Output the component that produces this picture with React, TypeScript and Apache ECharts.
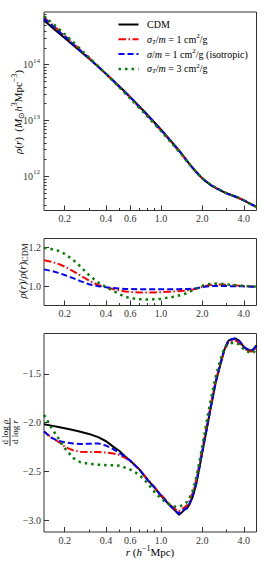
import React, { useEffect, useRef } from 'react';
import * as echarts from 'echarts';

// ---------- data ----------
const R_MIN = 0.1415;
const R_MAX = 4.95;

const rTop = [0.1415, 0.2, 0.3, 0.4, 0.5, 0.6, 0.8, 1.0, 1.2, 1.4, 1.6, 1.8, 2.0, 2.3, 2.6, 3.0, 3.5, 4.0, 4.5, 4.95];
const logRhoCDM = [14.79, 14.48, 14.11, 13.835, 13.61, 13.42, 13.1, 12.84, 12.615, 12.42, 12.235, 12.085, 11.965, 11.845, 11.77, 11.695, 11.635, 11.57, 11.505, 11.455];
const logRhoSigT1 = [14.845, 14.521, 14.123, 13.834, 13.601, 13.408, 13.087, 12.828, 12.604, 12.411, 12.228, 12.081, 11.964, 11.85, 11.775, 11.699, 11.638, 11.571, 11.505, 11.455];
const logRhoIso = [14.827, 14.505, 14.115, 13.834, 13.606, 13.414, 13.094, 12.834, 12.609, 12.415, 12.231, 12.083, 11.964, 11.846, 11.771, 11.696, 11.636, 11.57, 11.505, 11.455];
const logRhoSigT3 = [14.87, 14.548, 14.131, 13.834, 13.592, 13.393, 13.071, 12.813, 12.593, 12.402, 12.224, 12.081, 11.966, 11.852, 11.776, 11.7, 11.638, 11.571, 11.505, 11.455];

const rProf = [0.1415, 0.16, 0.18, 0.2, 0.23, 0.26, 0.3, 0.35, 0.4, 0.45,
  0.5, 0.55, 0.6, 0.7, 0.8, 0.9, 1.0, 1.1, 1.2, 1.3,
  1.35, 1.4, 1.5, 1.55, 1.6, 1.7, 1.8, 1.9, 2.0, 2.15,
  2.3, 2.5, 2.7, 2.9, 3.1, 3.3, 3.5, 3.7, 3.9, 4.1,
  4.4, 4.6, 4.8, 4.95];

const ratioSigT1 = [1.136, 1.128, 1.117, 1.103, 1.08, 1.058, 1.032, 1.009, 0.997, 0.988,
  0.981, 0.976, 0.973, 0.97, 0.97, 0.971, 0.972, 0.974, 0.975, 0.976,
  0.977, 0.978, 0.98, 0.981, 0.983, 0.986, 0.99, 0.995, 0.999, 1.005,
  1.01, 1.012, 1.012, 1.01, 1.009, 1.008, 1.007, 1.005, 1.004, 1.003,
  1.002, 1.001, 1.0, 1.0];
const ratioIso = [1.089, 1.081, 1.071, 1.06, 1.044, 1.029, 1.013, 1.003, 0.997, 0.993,
  0.991, 0.989, 0.988, 0.987, 0.987, 0.987, 0.987, 0.987, 0.987, 0.987,
  0.987, 0.988, 0.988, 0.988, 0.989, 0.99, 0.992, 0.995, 0.998, 1.001,
  1.003, 1.004, 1.004, 1.004, 1.003, 1.003, 1.003, 1.002, 1.002, 1.001,
  1.001, 1.0, 1.0, 1.0];
const ratioSigT3 = [1.199, 1.193, 1.184, 1.168, 1.138, 1.104, 1.06, 1.022, 0.998, 0.979,
  0.962, 0.949, 0.942, 0.936, 0.935, 0.936, 0.939, 0.943, 0.947, 0.952,
  0.955, 0.958, 0.964, 0.968, 0.973, 0.982, 0.991, 0.999, 1.005, 1.011,
  1.015, 1.016, 1.015, 1.013, 1.011, 1.01, 1.008, 1.006, 1.005, 1.004,
  1.003, 1.002, 1.001, 1.0];

const slopeCDM = [-2.016, -2.03, -2.045, -2.057, -2.075, -2.093, -2.115, -2.148, -2.19, -2.245,
  -2.29, -2.345, -2.39, -2.48, -2.585, -2.665, -2.745, -2.81, -2.865, -2.915,
  -2.94, -2.925, -2.885, -2.875, -2.845, -2.76, -2.635, -2.47, -2.3, -2.07,
  -1.85, -1.59, -1.41, -1.25, -1.16, -1.15, -1.14, -1.165, -1.205, -1.24,
  -1.26, -1.262, -1.235, -1.21];
const slopeSigT1 = [-2.09, -2.15, -2.195, -2.245, -2.283, -2.297, -2.3, -2.3, -2.305, -2.315,
  -2.33, -2.36, -2.395, -2.48, -2.58, -2.66, -2.735, -2.8, -2.855, -2.895,
  -2.905, -2.89, -2.86, -2.845, -2.81, -2.72, -2.595, -2.43, -2.265, -2.04,
  -1.83, -1.575, -1.4, -1.25, -1.175, -1.165, -1.16, -1.185, -1.22, -1.25,
  -1.27, -1.272, -1.25, -1.225];
const slopeIso = [-2.09, -2.155, -2.185, -2.2, -2.213, -2.218, -2.216, -2.212, -2.235, -2.27,
  -2.31, -2.35, -2.39, -2.48, -2.585, -2.665, -2.745, -2.81, -2.865, -2.91,
  -2.93, -2.915, -2.88, -2.87, -2.84, -2.755, -2.63, -2.465, -2.295, -2.065,
  -1.845, -1.585, -1.4, -1.245, -1.155, -1.145, -1.135, -1.16, -1.2, -1.235,
  -1.258, -1.26, -1.235, -1.21];
const slopeSigT3 = [-1.92, -2.05, -2.16, -2.26, -2.36, -2.405, -2.42, -2.43, -2.435, -2.435,
  -2.44, -2.46, -2.48, -2.535, -2.62, -2.71, -2.775, -2.82, -2.85, -2.862,
  -2.86, -2.85, -2.825, -2.81, -2.78, -2.7, -2.57, -2.41, -2.24, -1.99,
  -1.77, -1.53, -1.36, -1.235, -1.19, -1.185, -1.185, -1.2, -1.235, -1.26,
  -1.28, -1.29, -1.27, -1.25];

const xTickLabels = [0.2, 0.4, 0.6, 1.0, 2.0, 4.0];
const xMinorTicks = [0.3, 0.5, 0.7, 0.8, 0.9, 3.0];
const yTopExps = [12, 13, 14];
const yTopMinorExps = [11, 12, 13, 14];
const yTopMinorMantissas = [2, 3, 4, 5, 6, 7, 8, 9];
const ratioTicks = [1.0, 1.2];
const slopeTicks = [-3.0, -2.5, -2.0, -1.5];

const TOP_RANGE = [11.389, 14.944];
const RATIO_RANGE = [0.904, 1.247];
const SLOPE_RANGE = [-3.118, -1.088];

// ---------- styles ----------
const FONT = 'Liberation Serif';
const AX = '#333333';
const styles: Record<string, any> = {
  cdm: { color: '#000000', width: 2, type: 'solid' },
  sigT1: { color: '#ff0000', width: 2, type: [7.5, 2.5, 1.5, 2.5] },
  iso: { color: '#0000ff', width: 2, type: [6, 3] },
  sigT3: { color: '#008000', width: 2.5, type: [2.5, 4] },
};

const GRID_LEFT = 44;
const GRID_W = 212.5;
const grids = [
  { top: 12, height: 198.5 },
  { top: 238.5, height: 67 },
  { top: 333.5, height: 198.5 },
];

function lg(v: number) { return Math.log10(v); }

function xAxesFor(gridIndex: number) {
  const base = {
    type: 'value', gridIndex, position: 'bottom', offset: 0,
    min: lg(R_MIN), max: lg(R_MAX),
    axisLine: { show: false, onZero: false }, splitLine: { show: false },
  };
  return [
    {
      ...base,
      axisTick: { show: true, inside: true, length: 5, lineStyle: { color: AX, width: 1 }, customValues: xTickLabels.map(lg) },
      axisLabel: {
        show: true, margin: 3, customValues: xTickLabels.map(lg),
        formatter: (v: number) => Math.pow(10, v).toFixed(1),
        fontFamily: FONT, fontSize: 10, color: AX,
      },
    },
    {
      ...base,
      axisTick: { show: true, inside: true, length: 2.5, lineStyle: { color: AX, width: 1 }, customValues: xMinorTicks.map(lg) },
      axisLabel: { show: false },
    },
  ];
}

function series(name: string, xi: number, yi: number, xs: number[], ys: number[], key: string, smooth: number | boolean) {
  const s = styles[key];
  return {
    name, type: 'line', xAxisIndex: xi, yAxisIndex: yi,
    data: xs.map((r, i) => [lg(r), ys[i]]),
    showSymbol: false, symbol: 'none', smooth, silent: true,
    lineStyle: { color: s.color, width: s.width, type: s.type, cap: 'butt', join: 'round' },
  };
}

const yTopMinor: number[] = [];
yTopMinorExps.forEach((e) => yTopMinorMantissas.forEach((m) => {
  const v = e + lg(m);
  if (v > TOP_RANGE[0] && v < TOP_RANGE[1]) yTopMinor.push(v);
}));

const supRich = {
  n: { fontFamily: FONT, fontSize: 11, verticalAlign: 'middle' },
  i: { fontFamily: FONT, fontSize: 11, fontStyle: 'italic', verticalAlign: 'middle' },
  sup: { fontFamily: FONT, fontSize: 8, padding: [0, 0, 7, 0], verticalAlign: 'middle' },
  sub: { fontFamily: FONT, fontSize: 8, padding: [6, 0, 0, 0], verticalAlign: 'middle' },
  subi: { fontFamily: FONT, fontSize: 8, fontStyle: 'italic', padding: [6, 0, 0, 0], verticalAlign: 'middle' },
};
const legRich = {
  n: { fontFamily: FONT, fontSize: 10, verticalAlign: 'middle' },
  i: { fontFamily: FONT, fontSize: 10, fontStyle: 'italic', verticalAlign: 'middle' },
  sup: { fontFamily: FONT, fontSize: 7, padding: [0, 0, 6, 0], verticalAlign: 'middle' },
  subi: { fontFamily: FONT, fontSize: 7, fontStyle: 'italic', padding: [5, 0, 0, 0], verticalAlign: 'middle' },
};

const legendItems = [
  { key: 'cdm', text: '{n|CDM}' },
  { key: 'sigT1', text: '{i|σ}{subi|T}{n|/}{i|m}{n| = 1 cm}{sup|2}{n|/g}' },
  { key: 'iso', text: '{i|σ}{n|/}{i|m}{n| = 1 cm}{sup|2}{n|/g (isotropic)}' },
  { key: 'sigT3', text: '{i|σ}{subi|T}{n|/}{i|m}{n| = 3 cm}{sup|2}{n|/g}' },
];

function buildOption() {
  const graphic: any[] = [];
  legendItems.forEach((it, k) => {
    const y = 24.5 + k * 14.8;
    const s = styles[it.key];
    graphic.push({
      type: 'line', silent: true,
      shape: { x1: 118.5, y1: y, x2: 138.5, y2: y },
      style: { stroke: s.color, lineWidth: s.width, lineDash: Array.isArray(s.type) ? s.type : null, lineCap: 'butt' },
    });
    graphic.push({
      type: 'text', silent: true, x: 147, y,
      style: { text: it.text, rich: legRich, fill: '#000', fontFamily: FONT, fontSize: 10, align: 'left', verticalAlign: 'middle' },
    });
  });
  // axis titles
  graphic.push({
    type: 'text', silent: true, x: 18, y: 112, rotation: Math.PI / 2,
    style: {
      text: '{i|ρ}{n|(}{i|r}{n|)  (}{i|M}{sub|⊙}{i|h}{sup|3}{n|Mpc}{sup|−3}{n|)}',
      rich: supRich, fill: '#000', fontFamily: FONT, fontSize: 11, align: 'center', verticalAlign: 'middle',
    },
  });
  graphic.push({
    type: 'text', silent: true, x: 22, y: 271, rotation: Math.PI / 2,
    style: {
      text: '{i|ρ}{n|(}{i|r}{n|)/}{i|ρ}{n|(}{i|r}{n|)}{sub|CDM}',
      rich: supRich, fill: '#000', fontFamily: FONT, fontSize: 11, align: 'center', verticalAlign: 'middle',
    },
  });
  const fracRich = { i: { fontFamily: FONT, fontSize: 9, fontStyle: 'italic' } };
  graphic.push({
    type: 'group', x: 10, y: 432, rotation: Math.PI / 2, silent: true,
    children: [
      {
        type: 'text', x: 0, y: -5,
        style: { text: 'd log {i|ρ}', rich: fracRich, fill: '#000', fontFamily: FONT, fontSize: 9, align: 'center', verticalAlign: 'middle' },
      },
      { type: 'line', shape: { x1: -14, y1: 0, x2: 14, y2: 0 }, style: { stroke: '#000', lineWidth: 0.8 } },
      {
        type: 'text', x: 0, y: 5,
        style: { text: 'd log {i|r}', rich: fracRich, fill: '#000', fontFamily: FONT, fontSize: 9, align: 'center', verticalAlign: 'middle' },
      },
    ],
  });
  graphic.push({
    type: 'text', silent: true, x: 150, y: 552,
    style: {
      text: '{i|r}{n| (}{i|h}{sup|−1}{n|Mpc)}',
      rich: supRich, fill: '#000', fontFamily: FONT, fontSize: 11, align: 'center', verticalAlign: 'middle',
    },
  });

  const yBase = (gridIndex: number, range: number[]) => ({
    type: 'value', gridIndex, position: 'left', offset: 0, min: range[0], max: range[1],
    axisLine: { show: false, onZero: false }, splitLine: { show: false },
  });

  return {
    animation: false,
    backgroundColor: '#ffffff',
    grid: grids.map((g) => ({
      left: GRID_LEFT, top: g.top, width: GRID_W, height: g.height,
      show: true, borderColor: AX, borderWidth: 1, backgroundColor: 'transparent', containLabel: false,
    })),
    xAxis: [...xAxesFor(0), ...xAxesFor(1), ...xAxesFor(2)],
    yAxis: [
      {
        ...yBase(0, TOP_RANGE),
        axisTick: { show: true, inside: true, length: 5, lineStyle: { color: AX }, customValues: yTopExps },
        axisLabel: {
          show: true, margin: 4, customValues: yTopExps, color: AX, fontFamily: FONT, fontSize: 10,
          formatter: (v: number) => `{a|10}{b|${Math.round(v)}}`,
          rich: {
            a: { fontFamily: FONT, fontSize: 10, color: AX, verticalAlign: 'middle' },
            b: { fontFamily: FONT, fontSize: 7, color: AX, padding: [0, 0, 8, 0], verticalAlign: 'middle' },
          },
        },
      },
      {
        ...yBase(0, TOP_RANGE),
        axisTick: { show: true, inside: true, length: 2.5, lineStyle: { color: AX }, customValues: yTopMinor },
        axisLabel: { show: false },
      },
      {
        ...yBase(1, RATIO_RANGE),
        axisTick: { show: true, inside: true, length: 5, lineStyle: { color: AX }, customValues: ratioTicks },
        axisLabel: {
          show: true, margin: 3, customValues: ratioTicks, color: AX, fontFamily: FONT, fontSize: 10,
          formatter: (v: number) => v.toFixed(1),
        },
      },
      {
        ...yBase(2, SLOPE_RANGE),
        axisTick: { show: true, inside: true, length: 5, lineStyle: { color: AX }, customValues: slopeTicks },
        axisLabel: {
          show: true, margin: 3, customValues: slopeTicks, color: AX, fontFamily: FONT, fontSize: 10,
          formatter: (v: number) => (v < 0 ? '−' : '') + Math.abs(v).toFixed(1),
        },
      },
    ],
    series: [
      series('CDM', 0, 0, rTop, logRhoCDM, 'cdm', 0.3),
      series('sigT1', 0, 0, rTop, logRhoSigT1, 'sigT1', 0.3),
      series('iso', 0, 0, rTop, logRhoIso, 'iso', 0.3),
      series('sigT3', 0, 0, rTop, logRhoSigT3, 'sigT3', 0.3),

      series('sigT1', 2, 2, rProf, ratioSigT1, 'sigT1', false),
      series('iso', 2, 2, rProf, ratioIso, 'iso', false),
      series('sigT3', 2, 2, rProf, ratioSigT3, 'sigT3', false),

      series('CDM', 4, 3, rProf, slopeCDM, 'cdm', false),
      series('sigT1', 4, 3, rProf, slopeSigT1, 'sigT1', false),
      series('iso', 4, 3, rProf, slopeIso, 'iso', false),
      series('sigT3', 4, 3, rProf, slopeSigT3, 'sigT3', false),
    ],
    graphic,
  };
}

export default function App() {
  const ref = useRef<HTMLDivElement>(null);
  useEffect(() => {
    if (!ref.current) return;
    const chart = echarts.init(ref.current, null, { renderer: 'svg' });
    chart.setOption(buildOption() as any);
    return () => chart.dispose();
  }, []);
  return (
    <div
      ref={ref}
      style={{ position: 'absolute', left: 0, top: 0, width: 269, height: 571, background: '#fff' }}
    />
  );
}
